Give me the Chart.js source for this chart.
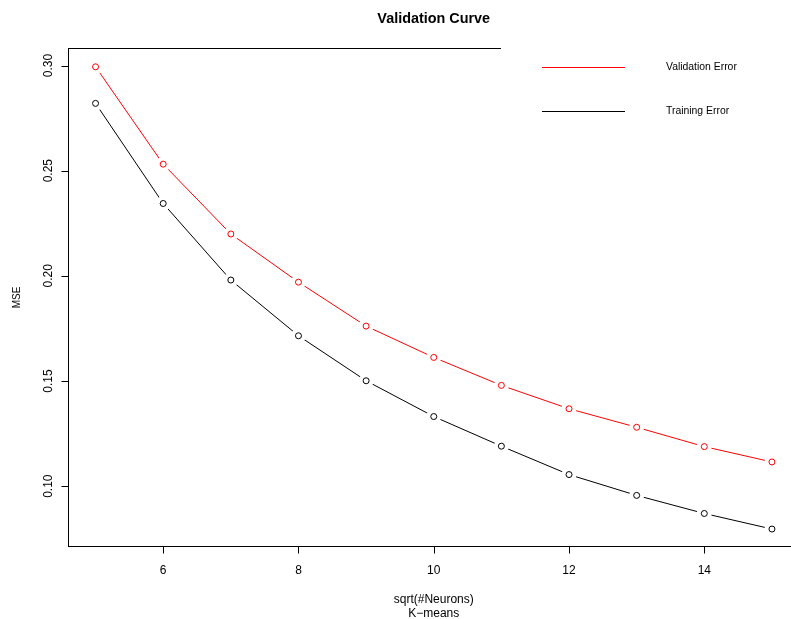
<!DOCTYPE html>
<html>
<head>
<meta charset="utf-8">
<script src="https://cdn.jsdelivr.net/npm/chart.js@4"></script>
<style>
  html, body { margin: 0; padding: 0; background: #fff; overflow: hidden; }
  #wrap { width: 791px; height: 619px; overflow: hidden; }
  canvas { display: block; }
</style>
</head>
<body>
<div id="wrap"><canvas id="curve" width="830" height="619"></canvas></div>
<script>
// data
const neurons = [5, 6, 7, 8, 9, 10, 11, 12, 13, 14, 15];   // sqrt(#Neurons)
const validationError = [0.2994, 0.2531, 0.2199, 0.1970, 0.1761, 0.1612, 0.1479, 0.1368, 0.1280, 0.1188, 0.1115];
const trainingError = [0.2820, 0.2344, 0.1980, 0.1715, 0.1501, 0.1331, 0.1190, 0.1055, 0.0956, 0.0870, 0.0796];

const xTicks = [6, 8, 10, 12, 14];
const yTicks = [0.10, 0.15, 0.20, 0.25, 0.30];
const yTickLabels = ['0.10', '0.15', '0.20', '0.25', '0.30'];

const seriesNames = ['Validation Error', 'Training Error'];
const seriesColors = ['#ff0000', '#000000'];

const FONT = '"Liberation Sans", Arial, Helvetica, sans-serif';


// draws box, axes, tick labels, titles and legend in base-R style
const rDecorations = {
    id: 'rDecorations',
    afterDraw(chart) {
        const ctx = chart.ctx;
        const area = chart.chartArea;
        const xs = chart.scales.x;
        const ys = chart.scales.y;

        ctx.save();
        ctx.strokeStyle = '#000';
        ctx.fillStyle = '#000';
        ctx.lineWidth = 1;

        // box
        ctx.strokeRect(area.left, area.top, area.right - area.left, area.bottom - area.top);

        // x axis
        ctx.beginPath();
        ctx.moveTo(xs.getPixelForValue(xTicks[0]), area.bottom);
        ctx.lineTo(xs.getPixelForValue(xTicks[xTicks.length - 1]), area.bottom);
        for (let i = 0; i < xTicks.length; i++) {
            const px = Math.round(xs.getPixelForValue(xTicks[i])) + 0.5;
            ctx.moveTo(px, area.bottom);
            ctx.lineTo(px, area.bottom + 7);
        }
        ctx.stroke();

        ctx.font = '12px ' + FONT;
        ctx.textAlign = 'center';
        ctx.textBaseline = 'alphabetic';
        for (let i = 0; i < xTicks.length; i++) {
            ctx.fillText(String(xTicks[i]), xs.getPixelForValue(xTicks[i]), 574);
        }

        // y axis
        ctx.beginPath();
        ctx.moveTo(area.left, ys.getPixelForValue(yTicks[0]));
        ctx.lineTo(area.left, ys.getPixelForValue(yTicks[yTicks.length - 1]));
        for (let i = 0; i < yTicks.length; i++) {
            const py = Math.round(ys.getPixelForValue(yTicks[i])) + 0.5;
            ctx.moveTo(area.left, py);
            ctx.lineTo(area.left - 7, py);
        }
        ctx.stroke();

        for (let i = 0; i < yTicks.length; i++) {
            ctx.save();
            ctx.translate(52, ys.getPixelForValue(yTicks[i]));
            ctx.rotate(-Math.PI / 2);
            ctx.fillText(yTickLabels[i], 0, 0);
            ctx.restore();
        }

        // axis titles
        const midX = (area.left + area.right) / 2;
        const midY = (area.top + area.bottom) / 2;
        ctx.fillText('sqrt(#Neurons)', midX, 603);
        ctx.fillText('K\u2212means', midX, 617);

        ctx.save();
        ctx.font = '10px ' + FONT;
        ctx.translate(20, midY);
        ctx.rotate(-Math.PI / 2);
        ctx.fillText('MSE', 0, 0);
        ctx.restore();

        // main title
        ctx.font = 'bold 14.4px ' + FONT;
        ctx.fillText('Validation Curve', midX, 23);

        // legend (white background hides the top of the box)
        ctx.fillStyle = '#fff';
        ctx.fillRect(501, 30, 330, 110);

        ctx.font = '10.4px ' + FONT;
        ctx.textAlign = 'left';
        ctx.textBaseline = 'middle';
        const legendY = [67.5, 111.5];
        for (let i = 0; i < seriesNames.length; i++) {
            ctx.strokeStyle = seriesColors[i];
            ctx.beginPath();
            ctx.moveTo(542, legendY[i]);
            ctx.lineTo(625, legendY[i]);
            ctx.stroke();
            ctx.fillStyle = '#000';
            ctx.fillText(seriesNames[i], 666, legendY[i]);
        }

        ctx.restore();
    }
};


// line with white disks at the points (the gaps of R's type="b")
function lineSet(name, values, color) {
    return {
        label: name,
        data: neurons.map((n, i) => ({ x: n, y: values[i] })),
        borderColor: color,
        borderWidth: 1,
        pointStyle: 'circle',
        pointRadius: 4.5,
        pointBorderWidth: 6,
        pointBorderColor: '#fff',
        pointBackgroundColor: '#fff',
        tension: 0,
        fill: false,
        order: 2
    };
}

// open circles on top
function pointSet(name, values, color) {
    return {
        label: name,
        data: neurons.map((n, i) => ({ x: n, y: values[i] })),
        showLine: false,
        pointStyle: 'circle',
        pointRadius: 3,
        pointBorderWidth: 1,
        pointBorderColor: color,
        pointBackgroundColor: 'rgba(0,0,0,0)',
        order: 1
    };
}


const lineCanvas = document.getElementById('curve');

new Chart(lineCanvas, {
    type: 'line',
    data: {
        labels: neurons,
        datasets: [
            lineSet(seriesNames[0], validationError, seriesColors[0]),
            lineSet(seriesNames[1], trainingError, seriesColors[1]),
            pointSet(seriesNames[0], validationError, seriesColors[0]),
            pointSet(seriesNames[1], trainingError, seriesColors[1])
        ]
    },
    options: {
        responsive: false,
        animation: false,
        events: [],
        layout: {
            // right padding is bigger than the point overflow, so the plot ends at x=799 (past the visible edge)
            padding: { left: 68.5, top: 48.5, right: 31, bottom: 72.5 }
        },
        plugins: {
            legend: { display: false },
            title: { display: false },
            tooltip: { enabled: false }
        },
        scales: {
            x: { type: 'linear', display: false, min: 4.6, max: 15.4 },
            y: { type: 'linear', display: false, min: 0.0713, max: 0.3081 }
        }
    },
    plugins: [rDecorations]
});
</script>
</body>
</html>
